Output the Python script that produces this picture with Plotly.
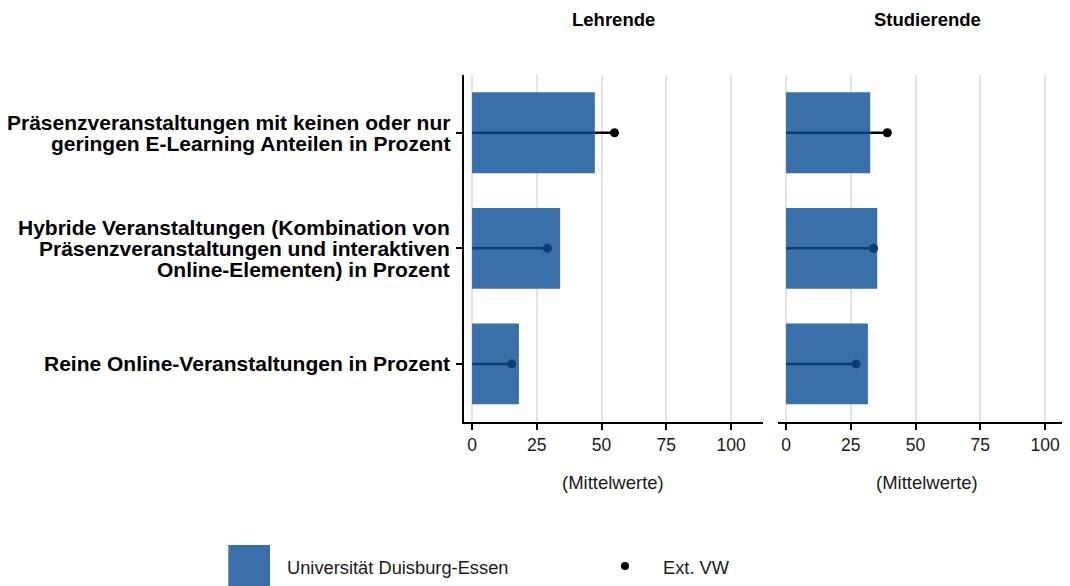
import plotly.graph_objects as go

# ---------------- data ----------------
categories = [
    "Präsenzveranstaltungen mit keinen oder nur\ngeringen E-Learning Anteilen in Prozent",
    "Hybride Veranstaltungen (Kombination von\nPräsenzveranstaltungen und interaktiven\nOnline-Elementen) in Prozent",
    "Reine Online-Veranstaltungen in Prozent",
]
panels = ["Lehrende", "Studierende"]
ude_lehrende = [47.4, 34.0, 18.1]
ext_lehrende = [55.0, 29.1, 15.3]
ude_studierende = [32.5, 35.2, 31.6]
ext_studierende = [39.1, 33.8, 27.0]
x_ticks = [0, 25, 50, 75, 100]
axis_title = "(Mittelwerte)"
legend_labels = ["Universität Duisburg-Essen", "Ext. VW"]

# ---------------- style ----------------
OFF = 8  # default page margin of the html body
W, H = 1070 - OFF, 586 - OFF
BAR = "#3970a9"
NAVY = "#0c3c74"
FONT = "Arial, 'Liberation Sans', sans-serif"
XRANGE = [-3.1, 112.2]


def px_x(p):
    return (p - OFF) / W


def px_y(p):
    return 1 - (p - OFF) / H


fig = go.Figure()
cat_keys = [c.replace("\n", " ") for c in categories]
order = list(reversed(cat_keys))  # bottom to top

series = [(ude_lehrende, ext_lehrende, "x", "y"), (ude_studierende, ext_studierende, "x2", "y2")]
for ude, ext, xa, ya in series:
    fig.add_trace(go.Bar(
        x=ude, y=cat_keys, orientation="h", width=0.7,
        marker=dict(color=BAR, line=dict(width=0)),
        xaxis=xa, yaxis=ya, showlegend=False, hoverinfo="x+y",
    ))
    for cat, b, e in zip(cat_keys, ude, ext):
        inner = min(b, e)
        fig.add_trace(go.Scatter(
            x=[0, inner], y=[cat, cat], mode="lines",
            line=dict(color=NAVY, width=2.5), xaxis=xa, yaxis=ya,
            showlegend=False, hoverinfo="skip",
        ))
        if e > b:
            fig.add_trace(go.Scatter(
                x=[b, e], y=[cat, cat], mode="lines",
                line=dict(color="black", width=2.5), xaxis=xa, yaxis=ya,
                showlegend=False, hoverinfo="skip",
            ))
        fig.add_trace(go.Scatter(
            x=[e], y=[cat], mode="markers",
            marker=dict(color=("black" if e > b else NAVY), size=9),
            xaxis=xa, yaxis=ya, showlegend=False,
        ))

ydom = [px_y(421.7), px_y(75)]
common_x = dict(
    range=XRANGE, tickvals=x_ticks, ticktext=[str(t) for t in x_ticks],
    showgrid=True, gridcolor="#e3e3e3", gridwidth=1.5, zeroline=False,
    showline=True, linecolor="black", linewidth=2,
    ticks="outside", ticklen=6, tickwidth=2, tickcolor="black",
    tickfont=dict(family=FONT, size=17.5, color="#1a1a1a"), fixedrange=True,
)
right_end = XRANGE[0] + (XRANGE[1] - XRANGE[0]) * (1070 - 778) / (762.7 - 464)
fig.update_layout(
    xaxis=dict(domain=[px_x(464), px_x(762.7)], anchor="y", **common_x),
    xaxis2=dict(domain=[px_x(778), 1.0], anchor="y2",
                **{**common_x, "range": [XRANGE[0], right_end]}),
    yaxis=dict(domain=ydom, anchor="x", type="category", categoryorder="array",
               categoryarray=order, range=[-0.5, 2.5], showgrid=False,
               showline=True, linecolor="black", linewidth=2,
               ticks="outside", ticklen=6, tickwidth=2, tickcolor="black",
               showticklabels=False, fixedrange=True),
    yaxis2=dict(domain=ydom, anchor="x2", type="category", categoryorder="array",
                categoryarray=order, range=[-0.5, 2.5], showgrid=False,
                showline=False, ticks="", showticklabels=False, fixedrange=True),
    width=W, height=H, margin=dict(l=0, r=0, t=0, b=0),
    plot_bgcolor="white", paper_bgcolor="white",
    bargap=0.3, showlegend=False,
    font=dict(family=FONT, color="black"),
)

annotations = []
# category labels, one annotation per line
LINE = 21
for cat, key in zip(categories, cat_keys):
    lines = cat.split("\n")
    n = len(lines)
    for i, ln in enumerate(lines):
        shift = ((n - 1) / 2 - i) * LINE
        annotations.append(dict(
            text=f"<b>{ln}</b>", xref="paper", x=px_x(452), xanchor="right",
            yref="y", y=key, yanchor="middle", yshift=shift, showarrow=False,
            font=dict(family=FONT, size=21, color="black"),
        ))

mid = (XRANGE[0] + XRANGE[1]) / 2
for name, xr in zip(panels, ["x", "x2"]):
    annotations.append(dict(
        text=f"<b>{name}</b>", xref=xr, x=mid, yref="paper", y=px_y(20),
        xanchor="center", yanchor="middle", showarrow=False,
        font=dict(family=FONT, size=18.5, color="black"),
    ))
    annotations.append(dict(
        text=axis_title, xref=xr, x=mid, yref="paper", y=px_y(482),
        xanchor="center", yanchor="middle", showarrow=False,
        font=dict(family=FONT, size=18.5, color="#1a1a1a"),
    ))

# legend
annotations.append(dict(
    text=legend_labels[0], xref="paper", x=px_x(285), xanchor="left",
    yref="paper", y=px_y(567), yanchor="middle", showarrow=False,
    font=dict(family=FONT, size=18.3, color="#1a1a1a"),
))
annotations.append(dict(
    text=legend_labels[1], xref="paper", x=px_x(661), xanchor="left",
    yref="paper", y=px_y(567), yanchor="middle", showarrow=False,
    font=dict(family=FONT, size=18.3, color="#1a1a1a"),
))
fig.update_layout(annotations=annotations)

shapes = [
    dict(type="rect", xref="paper", yref="paper",
         x0=px_x(228.3), x1=px_x(270), y0=0, y1=px_y(545),
         fillcolor=BAR, line=dict(width=0)),
    dict(type="circle", xref="paper", yref="paper",
         x0=px_x(621), x1=px_x(629), y0=px_y(570), y1=px_y(562),
         fillcolor="black", line=dict(width=0)),
]
fig.update_layout(shapes=shapes)

fig.write_html("out.html")
